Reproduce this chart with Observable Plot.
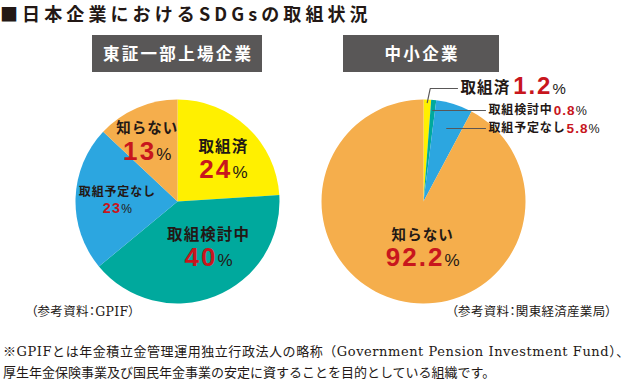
<!DOCTYPE html>
<html>
<head>
<meta charset="utf-8">
<script src="https://cdn.jsdelivr.net/npm/d3@7"></script>
<script src="https://cdn.jsdelivr.net/npm/@observablehq/plot@0.6"></script>
<style>
  body { margin: 0; background: #fff; }
  #wrap { position: relative; width: 635px; height: 384px; overflow: hidden; color: #231815;
          font-family: "Noto Sans CJK JP", sans-serif; }
  .title { position: absolute; left: 0; top: 0; width: 420px; font-size: 18px; font-weight: 700; line-height: 26px;
           letter-spacing: 4.1px; white-space: nowrap; }
  .hdr { position: absolute; top: 35px; height: 37px; line-height: 37px; background: #595757; color: #fff;
         font-size: 16.5px; font-weight: 700; text-align: center; letter-spacing: 2.3px; text-indent: 2.3px; white-space: nowrap; }
  .src { position: absolute; top: 303px; font-size: 12.5px; line-height: 18px; white-space: nowrap; letter-spacing: 0.3px;
         font-family: "DejaVu Serif", "Noto Sans CJK JP", serif; font-feature-settings: "palt"; }
  .note { position: absolute; left: 3px; top: 341px; font-size: 13px; line-height: 21px; white-space: nowrap;
          font-family: "DejaVu Serif", "Noto Sans CJK JP", serif; }
  .note div:first-child { letter-spacing: 0.56px; }
  #chart { position: absolute; left: 0; top: 0; }
  #chart g[font-family*="Noto"] text { letter-spacing: 0.07em; }
  #chart g[font-family*="Liberation"][font-weight="700"] text { letter-spacing: 0.08em; }
</style>
</head>
<body>
<div id="wrap">
  <div id="chart"></div>
  <div class="title" id="title"></div>
  <div class="hdr" id="hdr0" style="left:92px;width:170px"></div>
  <div class="hdr" id="hdr1" style="left:343px;width:156px"></div>
  <div class="src" id="src0" style="left:31px"></div>
  <div class="src" id="src1" style="right:23px"></div>
  <div class="note" id="note"></div>
</div>
<script>
// ---------------- data ----------------
const titleText = "■日本企業におけるSDGsの取組状況";
const groups = ["東証一部上場企業", "中小企業"];
const categories = ["取組済", "取組検討中", "取組予定なし", "知らない"];
const toshoShares = [24, 40, 23, 13];       // %
const chushoShares = [1.2, 0.8, 5.8, 92.2]; // %
const sliceColors = ["#FFF000", "#00A99D", "#2CA6E0", "#F5AE4C"];
const sources = ["（参考資料：GPIF）", "（参考資料：関東経済産業局）"];
const noteLines = [
  "※GPIFとは年金積立金管理運用独立行政法人の略称（Government Pension Investment Fund）、",
  "厚生年金保険事業及び国民年金事業の安定に資することを目的としている組織です。"
];

// ---------------- layout / style ----------------
const W = 635, H = 384;
const R = 102;               // pie radius (px)
const CY = 201;              // pie centre line (px)
const CX0 = 177, STEP = 246; // first pie centre, distance between pies (px)
const NAME_FONT = '"Noto Sans CJK JP", sans-serif';
const NUM_FONT = '"Liberation Sans", Arial, sans-serif';
const INK = "#231815", RED = "#C8161D", LEADER = "#595757";
const NAME_LS = 0.07, NUM_LS = 0.08;   // letter-spacing (em), same as the CSS above
const K = 0.6; // label radius (fraction of R)

const insideStyle = {
  "東証一部上場企業/取組済":     {name: 15.5, num: 26, pct: 17, dx: 4,   dy: 6,  gap: 0},
  "東証一部上場企業/取組検討中": {name: 15.5, num: 26, pct: 17, dx: 8.5, dy: -8, gap: 0},
  "東証一部上場企業/取組予定なし": {name: 12, num: 14.5, pct: 12, dx: 1, dy: 3, gap: 1.5},
  "東証一部上場企業/知らない":   {name: 14.5, num: 26, pct: 17, dx: -6,  dy: -1, gap: 0},
  "中小企業/知らない":           {name: 14.5, num: 26, pct: 17, dx: 14,  dy: -10, gap: 0}
};
const outsideStyle = {
  "中小企業/取組済":       {name: 15.5, num: 24,   pct: 15,   tx: 37, ty: -113, gap: 3},
  "中小企業/取組検討中":   {name: 12,   num: 13.5, pct: 12.5, tx: 65, ty: -91,  gap: 1},
  "中小企業/取組予定なし": {name: 12,   num: 13.5, pct: 12.5, tx: 65, ty: -73,  gap: 1}
};

// ---------------- derived ----------------
const shares = [toshoShares, chushoShares];
const pie = d3.pie().sort(null).value(d => d.value);
const rows = groups.flatMap((g, gi) =>
  pie(categories.map((c, ci) => ({group: g, category: c, value: shares[gi][ci], color: sliceColors[ci]})))
    .map(a => ({...a.data, a0: a.startAngle, a1: a.endAngle, mid: (a.startAngle + a.endAngle) / 2}))
);
const key = d => `${d.group}/${d.category}`;

// wedge-shaped symbol: drawn by Plot's dot mark, radius from Plot's size
const wedge = (a0, a1) => ({
  draw(ctx, size) {
    const r = Math.sqrt(size / Math.PI);
    ctx.moveTo(0, 0);
    ctx.arc(0, 0, r, a0 - Math.PI / 2, a1 - Math.PI / 2);
    ctx.closePath();
  }
});

const mctx = document.createElement("canvas").getContext("2d");
function measure(text, size, weight, family, ls) {
  mctx.font = `${weight} ${size}px ${family}`;
  return mctx.measureText(text).width + ls * size * [...text].length;
}

const labels = [];
const leaders = [];
for (const d of rows) {
  const num = String(d.value);
  const si = insideStyle[key(d)], so = outsideStyle[key(d)];
  if (si) {
    const ax = K * R * Math.sin(d.mid) + si.dx, ay = -K * R * Math.cos(d.mid) + si.dy;
    const wN = measure(num, si.num, 700, NUM_FONT, NUM_LS), wP = measure("%", si.pct, 400, NUM_FONT, 0);
    const x0 = ax - (wN + wP) / 2;
    labels.push({...d, num, nameSize: si.name, numSize: si.num, pctSize: si.pct,
      nameX: ax / R, nameY: (ay - 0.6 * si.num - si.gap) / R,
      numX: x0 / R, pctX: (x0 + wN) / R, baseY: (ay + 0.6 * si.num + si.gap) / R});
  } else if (so) {
    const wName = measure(d.category, so.name, 700, NAME_FONT, NAME_LS);
    const wN = measure(num, so.num, 700, NUM_FONT, NUM_LS);
    const numX = so.tx + wName + so.gap;
    labels.push({...d, num, nameSize: so.name, numSize: so.num, pctSize: so.pct,
      nameX: (so.tx + wName / 2) / R, nameY: so.ty / R,
      numX: numX / R, pctX: (numX + wN) / R, baseY: (so.ty + 0.35 * so.name) / R});
    // leader line: from slice (on its mid ray) to the label
    const rs = Math.min(0.97 * R, -so.ty / Math.cos(d.mid));
    const sx = rs * Math.sin(d.mid), sy = -rs * Math.cos(d.mid);
    leaders.push({group: d.group, category: d.category, x: sx / R, y: sy / R});
    if (sy - so.ty > 1) leaders.push({group: d.group, category: d.category, x: (sx + 3) / R, y: so.ty / R});
    leaders.push({group: d.group, category: d.category, x: (so.tx - 3) / R, y: so.ty / R});
  }
}

const ml = CX0 - STEP / 2, mr = W - ml - 2 * STEP;

const chart = Plot.plot({
  width: W, height: H,
  marginLeft: ml, marginRight: mr, marginTop: 0, marginBottom: 0,
  fx: {domain: groups, padding: 0, round: false, axis: null, label: null},
  x: {domain: [-STEP / 2 / R, STEP / 2 / R], axis: null},
  y: {domain: [-CY / R, (H - CY) / R], reverse: true, axis: null},
  style: {background: "transparent", overflow: "visible"},
  marks: [
    Plot.dot(rows, {fx: "group", x: 0, y: 0, r: R, symbol: d => wedge(d.a0, d.a1),
      fill: "color", stroke: "none"}),
    Plot.line(leaders, {fx: "group", x: "x", y: "y", z: "category", stroke: LEADER, strokeWidth: 1.2}),
    Plot.text(labels, {fx: "group", x: "nameX", y: "nameY", text: "category", fontSize: d => d.nameSize,
      fontWeight: 700, fontFamily: NAME_FONT, fill: INK, textAnchor: "middle", lineAnchor: "middle"}),
    Plot.text(labels, {fx: "group", x: "numX", y: "baseY", text: "num", fontSize: d => d.numSize,
      fontWeight: 700, fontFamily: NUM_FONT, fill: RED, textAnchor: "start", lineAnchor: "bottom"}),
    Plot.text(labels, {fx: "group", x: "pctX", y: "baseY", text: () => "%", fontSize: d => d.pctSize,
      fontWeight: 400, fontFamily: NUM_FONT, fill: INK, textAnchor: "start", lineAnchor: "bottom"})
  ]
});
document.getElementById("chart").appendChild(chart);

document.getElementById("title").textContent = titleText;
document.getElementById("hdr0").textContent = groups[0];
document.getElementById("hdr1").textContent = groups[1];
document.getElementById("src0").textContent = sources[0];
document.getElementById("src1").textContent = sources[1];
document.getElementById("note").innerHTML = noteLines.map(s => `<div>${s}</div>`).join("");
</script>
</body>
</html>
